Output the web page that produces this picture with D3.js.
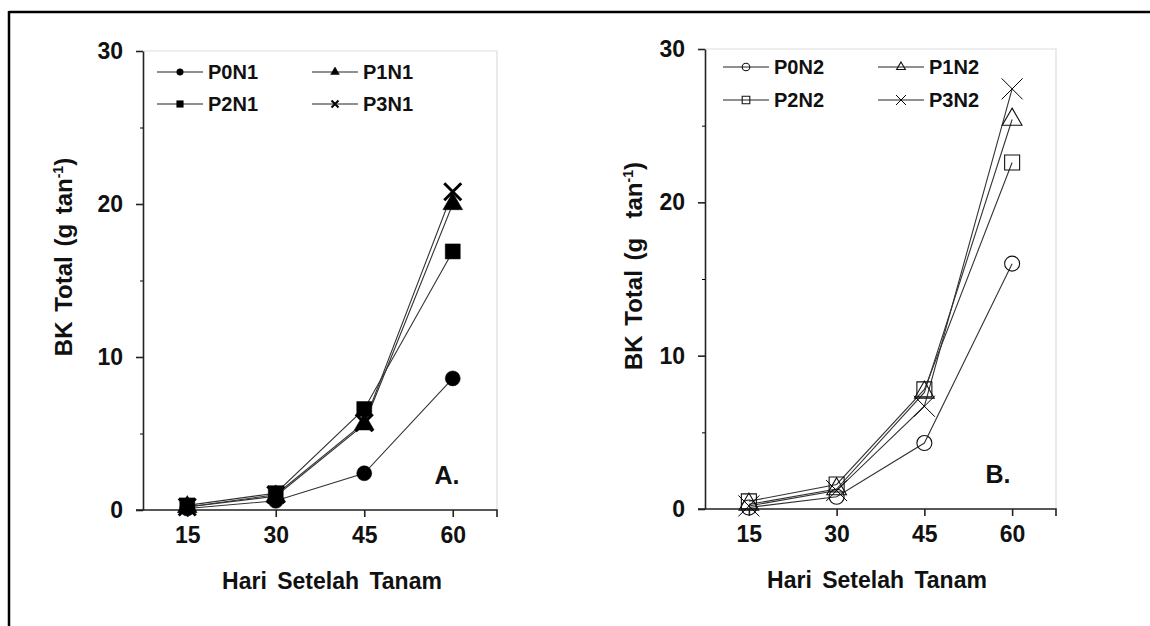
<!DOCTYPE html>
<html>
<head>
<meta charset="utf-8">
<script src="https://cdn.jsdelivr.net/npm/d3@7"></script>
<style>
  body { margin: 0; background: #fff; }
  text { font-family: "Liberation Sans", Arial, sans-serif; font-weight: bold; fill: #111; }
</style>
</head>
<body>
<div id="chart"></div>
<script>
// data
var days = [15, 30, 45, 60];
var yTicks = [0, 10, 20, 30];
var yMinor = [5, 15, 25];

var P0N1 = [0.1, 0.6, 2.4, 8.6];
var P1N1 = [0.2, 0.9, 5.6, 20.0];
var P2N1 = [0.3, 1.1, 6.6, 16.9];
var P3N1 = [0.2, 1.0, 5.7, 20.8];

var P0N2 = [0.1, 0.8, 4.3, 16.0];
var P1N2 = [0.3, 1.3, 7.6, 25.4];
var P2N2 = [0.5, 1.6, 7.8, 22.6];
var P3N2 = [0.2, 1.2, 6.7, 27.4];

var seriesA = [
  {name: 'P0N1', values: P0N1, shape: 'circle'},
  {name: 'P1N1', values: P1N1, shape: 'triangle'},
  {name: 'P2N1', values: P2N1, shape: 'square'},
  {name: 'P3N1', values: P3N1, shape: 'cross'}
];
var seriesB = [
  {name: 'P0N2', values: P0N2, shape: 'circle'},
  {name: 'P1N2', values: P1N2, shape: 'triangle'},
  {name: 'P2N2', values: P2N2, shape: 'square'},
  {name: 'P3N2', values: P3N2, shape: 'cross'}
];

var width = 1150, height = 626;

var svg = d3.select('#chart')
  .append('svg')
  .attr('width', width)
  .attr('height', height);

// outer frame: only top and left edges show
svg.append('line').attr('x1', 9).attr('x2', width).attr('y1', 12).attr('y2', 12)
  .attr('stroke', '#000').attr('stroke-width', 2.5);
svg.append('line').attr('x1', 9).attr('x2', 9).attr('y1', 11).attr('y2', height)
  .attr('stroke', '#000').attr('stroke-width', 2.5);

var panels = [
  {series: seriesA, filled: true, x0: 143, x1: 497, y0: 510, y1: 51, label: 'A.', labelX: 447,
   yTitle: 'BK Total (g tan', yTitleX: 63, yTitleY: 257, xTitleX: 332,
   legendY: [72, 104], legendX: [157, 312]},
  {series: seriesB, filled: false, x0: 705, x1: 1056, y0: 509, y1: 49, label: 'B.', labelX: 998,
   yTitle: 'BK Total (g\u00a0\u00a0tan', yTitleX: 633, yTitleY: 266, xTitleX: 877,
   legendY: [67, 100], legendX: [723, 878]}
];

function markerPath(shape, s) {
  // s = half size
  if (shape === 'circle') return d3.symbol(d3.symbolCircle, Math.PI * s * s)();
  if (shape === 'square') return d3.symbol(d3.symbolSquare, 4 * s * s)();
  if (shape === 'triangle') return d3.symbol(d3.symbolTriangle, 1.6 * s * s * 1.3)();
  return 'M' + (-s) + ',' + (-s) + 'L' + s + ',' + s + 'M' + (-s) + ',' + s + 'L' + s + ',' + (-s);
}

function drawMarker(g, shape, filled, s, big) {
  var p = g.append('path').attr('d', markerPath(shape, s));
  if (shape === 'cross') {
    p.attr('fill', 'none').attr('stroke', '#000')
      .attr('stroke-width', filled ? (big ? 3 : 2) : 1);
  } else if (filled) {
    p.attr('fill', '#000').attr('stroke', '#000').attr('stroke-width', 0.5);
  } else {
    p.attr('fill', 'none').attr('stroke', '#111').attr('stroke-width', 1.1);
  }
  return p;
}

panels.forEach(function(pn) {
  var x = d3.scaleLinear().domain([7.5, 67.5]).range([pn.x0, pn.x1]);
  var y = d3.scaleLinear().domain([0, 30]).range([pn.y0, pn.y1]);
  var g = svg.append('g');

  // light frame of the plot area
  g.append('path')
    .attr('d', 'M' + pn.x0 + ',' + pn.y1 + 'H' + pn.x1 + 'V' + pn.y0)
    .attr('fill', 'none').attr('stroke', '#ddd').attr('stroke-width', 1.2);

  // y axis
  var yAxis = g.append('g')
    .attr('transform', 'translate(' + pn.x0 + ',0)')
    .call(d3.axisLeft(y).tickValues(yTicks).tickSize(7).tickPadding(13).tickSizeOuter(0));
  g.append('g')
    .attr('transform', 'translate(' + pn.x0 + ',0)')
    .call(d3.axisLeft(y).tickValues(yMinor).tickSize(3).tickFormat('').tickSizeOuter(0))
    .select('.domain').remove();

  // x axis
  var xAxis = g.append('g')
    .attr('transform', 'translate(0,' + pn.y0 + ')')
    .call(d3.axisBottom(x).tickValues(days).tickSize(7).tickPadding(10).tickSizeOuter(7));

  [yAxis, xAxis].forEach(function(a) {
    a.selectAll('path, line').attr('stroke', '#222').attr('stroke-width', 1.6);
    a.selectAll('text').attr('font-size', 23).attr('fill', '#111')
      .attr('font-family', '"Liberation Sans", Arial, sans-serif').attr('font-weight', 'bold');
  });
  xAxis.select('.domain').attr('d', 'M' + (pn.x0 - 7) + ',0H' + pn.x1 + 'V7');

  // lines
  var line = d3.line()
    .x(function(d, i) { return x(days[i]); })
    .y(function(d) { return y(d); });

  g.selectAll('.serie')
    .data(pn.series)
    .enter()
    .append('path')
    .attr('d', function(d) { return line(d.values); })
    .attr('fill', 'none')
    .attr('stroke', '#333')
    .attr('stroke-width', 1.1);

  // markers
  pn.series.forEach(function(s) {
    s.values.forEach(function(v, i) {
      var m = g.append('g').attr('transform', 'translate(' + x(days[i]) + ',' + y(v) + ')');
      var size = s.shape === 'cross' ? (pn.filled ? 8.5 : 10.5) : (s.shape === 'triangle' ? 9 : 7.5);
      drawMarker(m, s.shape, pn.filled, size, true);
    });
  });

  // legend
  pn.series.forEach(function(s, i) {
    var lx = pn.legendX[i % 2];
    var ly = pn.legendY[Math.floor(i / 2)];
    var lg = g.append('g').attr('transform', 'translate(' + lx + ',' + ly + ')');
    lg.append('line').attr('x1', 0).attr('x2', 46).attr('y1', 0).attr('y2', 0)
      .attr('stroke', '#222').attr('stroke-width', 1.2);
    var mk = lg.append('g').attr('transform', 'translate(23,0)');
    var ls = s.shape === 'cross' ? (pn.filled ? 3.5 : 5) : (s.shape === 'triangle' ? 4 : (pn.filled ? 3.3 : 3.8));
    drawMarker(mk, s.shape, pn.filled, ls, false);
    lg.append('text')
      .attr('x', 51)
      .attr('y', 7)
      .attr('font-size', 20)
      .text(s.name);
  });

  // axis titles
  var yt = g.append('text')
    .attr('transform', 'translate(' + (pn.yTitleX + 9) + ',' + pn.yTitleY + ') rotate(-90)')
    .attr('text-anchor', 'middle')
    .attr('font-size', 24)
    .style('white-space', 'pre')
    .style('word-spacing', '3px');
  yt.append('tspan').text(pn.yTitle);
  yt.append('tspan').attr('dy', -9).attr('font-size', 14).text('-1');
  yt.append('tspan').attr('dy', 9).text(')');

  g.append('text')
    .attr('x', pn.xTitleX)
    .attr('y', pn.y0 + 79)
    .attr('text-anchor', 'middle')
    .attr('font-size', 23)
    .style('word-spacing', '4px')
    .text('Hari Setelah Tanam');

  g.append('text')
    .attr('x', pn.labelX)
    .attr('y', pn.y0 - 26)
    .attr('text-anchor', 'middle')
    .attr('font-family', 'Lato, sans-serif')
    .attr('font-size', 25)
    .text(pn.label);
});
</script>
</body>
</html>
